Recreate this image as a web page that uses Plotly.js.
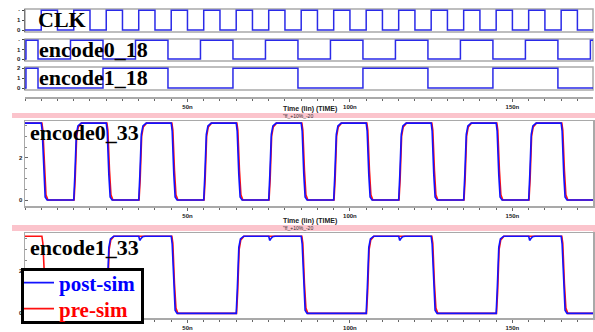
<!DOCTYPE html>
<html>
<head>
<meta charset="utf-8">
<script src="https://cdn.plot.ly/plotly-3.0.1.min.js"></script>
<style>html,body{margin:0;padding:0;background:#fff;}#chart{width:595px;height:332px;}</style>
</head>
<body>
<div id="chart"></div>
<script>
// ---- digital 1.8 V signals (step points: time ns, level V) ----
const clkT = [0,5,10,15,20,25,30,35,40,45,50,55,60,65,70,75,80,85,90,95,100,105,110,115,120,125,130,135,140,145,150,155,160,165,170,174.8];
const clkV = [0,1.98,0,1.98,0,1.98,0,1.98,0,1.98,0,1.98,0,1.98,0,1.98,0,1.98,0,1.98,0,1.98,0,1.98,0,1.98,0,1.98,0,1.98,0,1.98,0,1.98,0,0];
const enc0dT = [0,0.3,4,14,24,34,44,54,64,74,84,94,104,114,124,134,144,154,164,174,174.8];
const enc0dV = [0,1.98,0,1.98,0,1.98,0,1.98,0,1.98,0,1.98,0,1.98,0,1.98,0,1.98,0,1.98,1.98];
const enc1dT = [0,0.3,4,24,44,64,84,104,124,144,164,174.8];
const enc1dV = [0,1.98,0,1.98,0,1.98,0,1.98,0,1.98,0,0];

// ---- analog 3.3 V signals (post-sim / pre-sim) ----
const enc0PostT = [0,
 5,5.3,5.8,6.2,6.8, 15,15.35,15.8,16.3,17.3,
 25,25.3,25.8,26.2,26.8, 35,35.35,35.8,36.3,37.3,
 45,45.3,45.8,46.2,46.8, 55,55.35,55.8,56.3,57.3,
 65,65.3,65.8,66.2,66.8, 75,75.35,75.8,76.3,77.3,
 85,85.3,85.8,86.2,86.8, 95,95.35,95.8,96.3,97.3,
 105,105.3,105.8,106.2,106.8, 115,115.35,115.8,116.3,117.3,
 125,125.3,125.8,126.2,126.8, 135,135.35,135.8,136.3,137.3,
 145,145.3,145.8,146.2,146.8, 155,155.35,155.8,156.3,157.3,
 165,165.3,165.8,166.2,166.8, 174.8];
const enc0PostV = [3.63,
 3.63,3.25,1.2,0.15,0, 0,1.2,3.1,3.5,3.63,
 3.63,3.25,1.2,0.15,0, 0,1.2,3.1,3.5,3.63,
 3.63,3.25,1.2,0.15,0, 0,1.2,3.1,3.5,3.63,
 3.63,3.25,1.2,0.15,0, 0,1.2,3.1,3.5,3.63,
 3.63,3.25,1.2,0.15,0, 0,1.2,3.1,3.5,3.63,
 3.63,3.25,1.2,0.15,0, 0,1.2,3.1,3.5,3.63,
 3.63,3.25,1.2,0.15,0, 0,1.2,3.1,3.5,3.63,
 3.63,3.25,1.2,0.15,0, 0,1.2,3.1,3.5,3.63,
 3.63,3.25,1.2,0.15,0, 0];
const enc0PreT = [0,
 5.2,5.5,6.0,6.45,7.05, 15.1,15.45,15.9,16.4,17.4,
 25.2,25.5,26.0,26.45,27.05, 35.1,35.45,35.9,36.4,37.4,
 45.2,45.5,46.0,46.45,47.05, 55.1,55.45,55.9,56.4,57.4,
 65.2,65.5,66.0,66.45,67.05, 75.1,75.45,75.9,76.4,77.4,
 85.2,85.5,86.0,86.45,87.05, 95.1,95.45,95.9,96.4,97.4,
 105.2,105.5,106.0,106.45,107.05, 115.1,115.45,115.9,116.4,117.4,
 125.2,125.5,126.0,126.45,127.05, 135.1,135.45,135.9,136.4,137.4,
 145.2,145.5,146.0,146.45,147.05, 155.1,155.45,155.9,156.4,157.4,
 165.2,165.5,166.0,166.45,167.05, 174.8];
const enc0PreV = [3.63,
 3.63,3.3,1.4,0.25,0, 0,1.0,3.0,3.45,3.63,
 3.63,3.3,1.4,0.25,0, 0,1.0,3.0,3.45,3.63,
 3.63,3.3,1.4,0.25,0, 0,1.0,3.0,3.45,3.63,
 3.63,3.3,1.4,0.25,0, 0,1.0,3.0,3.45,3.63,
 3.63,3.3,1.4,0.25,0, 0,1.0,3.0,3.45,3.63,
 3.63,3.3,1.4,0.25,0, 0,1.0,3.0,3.45,3.63,
 3.63,3.3,1.4,0.25,0, 0,1.0,3.0,3.45,3.63,
 3.63,3.3,1.4,0.25,0, 0,1.0,3.0,3.45,3.63,
 3.63,3.3,1.4,0.25,0, 0];
const enc1PostT = [0,
 25,25.35,25.8,26.3,27.3, 35,35.3,35.6,36.2,36.9, 45,45.3,45.8,46.2,46.8,
 65,65.35,65.8,66.3,67.3, 75,75.3,75.6,76.2,76.9, 85,85.3,85.8,86.2,86.8,
 105,105.35,105.8,106.3,107.3, 115,115.3,115.6,116.2,116.9, 125,125.3,125.8,126.2,126.8,
 145,145.35,145.8,146.3,147.3, 155,155.3,155.6,156.2,156.9, 165,165.3,165.8,166.2,166.8,
 174.8];
const enc1PostV = [0,
 0,1.2,3.1,3.5,3.63, 3.63,3.43,3.5,3.6,3.63, 3.63,3.25,1.2,0.15,0,
 0,1.2,3.1,3.5,3.63, 3.63,3.43,3.5,3.6,3.63, 3.63,3.25,1.2,0.15,0,
 0,1.2,3.1,3.5,3.63, 3.63,3.43,3.5,3.6,3.63, 3.63,3.25,1.2,0.15,0,
 0,1.2,3.1,3.5,3.63, 3.63,3.43,3.5,3.6,3.63, 3.63,3.25,1.2,0.15,0,
 0];
const enc1PreT = [0,
 5.2,5.5,6.0,6.45,7.05, 25.1,25.45,25.9,26.4,27.4,
 45.2,45.5,46.0,46.45,47.05, 65.1,65.45,65.9,66.4,67.4,
 85.2,85.5,86.0,86.45,87.05, 105.1,105.45,105.9,106.4,107.4,
 125.2,125.5,126.0,126.45,127.05, 145.1,145.45,145.9,146.4,147.4,
 165.2,165.5,166.0,166.45,167.05, 174.8];
const enc1PreV = [3.63,
 3.63,3.3,1.4,0.25,0, 0,1.0,3.0,3.45,3.63,
 3.63,3.3,1.4,0.25,0, 0,1.0,3.0,3.45,3.63,
 3.63,3.3,1.4,0.25,0, 0,1.0,3.0,3.45,3.63,
 3.63,3.3,1.4,0.25,0, 0,1.0,3.0,3.45,3.63,
 3.63,3.3,1.4,0.25,0, 0];

// ---- tick labels ----
const timeTickVals = [50,100,150];
const timeTickText = ['50n','100n','150n'];
const digTickVals = [0,1,2];
const digTickTextA = ['0','1','·'];
const digTickTextB = ['0','1','2'];
const anaTickVals = [0,2];
const anaTickText = ['0','2'];
const seriesNames = ['post-sim','pre-sim'];

// ---- layout helpers (pixel -> paper) ----
const W = 595, H = 332;
const px = v => v / W;
const py = v => 1 - v / H;
const BLUE = '#1212ff', RED = '#ff1010', DBLUE = '#2a2ae8', GRID = '#a9a9a9';

const traces = [
  {x: clkT, y: clkV, xaxis:'x', yaxis:'y', mode:'lines', line:{shape:'hv', color:DBLUE, width:1.5}, showlegend:false},
  {x: enc0dT, y: enc0dV, xaxis:'x', yaxis:'y2', mode:'lines', line:{shape:'hv', color:DBLUE, width:1.5}, showlegend:false},
  {x: enc1dT, y: enc1dV, xaxis:'x', yaxis:'y3', mode:'lines', line:{shape:'hv', color:DBLUE, width:1.5}, showlegend:false},
  {x: enc0PreT, y: enc0PreV, xaxis:'x2', yaxis:'y4', mode:'lines', line:{color:RED, width:1.6},
   name:'<b><span style="color:#ff0000">' + seriesNames[1] + '</span></b>', legend:'legend2', showlegend:true},
  {x: enc1PreT, y: enc1PreV, xaxis:'x3', yaxis:'y5', mode:'lines', line:{color:RED, width:1.6}, showlegend:false},
  {x: enc0PostT, y: enc0PostV, xaxis:'x2', yaxis:'y4', mode:'lines', line:{color:BLUE, width:1.6},
   name:'<b><span style="color:#0000ff">' + seriesNames[0] + '</span></b>', legend:'legend', showlegend:true},
  {x: enc1PostT, y: enc1PostV, xaxis:'x3', yaxis:'y5', mode:'lines', line:{color:BLUE, width:1.6}, showlegend:false}
];

const xCommon = {
  domain:[px(25), px(593)], range:[0,174.8], showgrid:false, zeroline:false,
  tickmode:'array', tickvals:timeTickVals, ticktext:timeTickText,
  ticks:'outside', ticklen:3, tickwidth:1, tickcolor:'#666',
  tickfont:{size:6, color:'#222', family:'Liberation Sans', weight:'bold'},
  showline:true, linecolor:GRID, linewidth:1.5,
  minor:{tickmode:'linear', tick0:0, dtick:5, ticks:'outside', ticklen:2, tickcolor:'#666', showgrid:false}
};
const yDig = (d0, d1, texts) => ({
  domain:[py(d1), py(d0)], range:[-0.2,2.1], showgrid:false, zeroline:false,
  tickmode:'array', tickvals:digTickVals, ticktext:texts,
  ticks:'outside', ticklen:2, tickcolor:'#444',
  tickfont:{size:6, color:'#222', family:'Liberation Sans', weight:'bold'},
  showline:true, linecolor:'#777', linewidth:1.5, mirror:false, anchor:'x'
});
const yAna = (d0, d1, r) => ({
  domain:[py(d1), py(d0)], range:r, showgrid:false, zeroline:false,
  tickmode:'array', tickvals:anaTickVals, ticktext:anaTickText,
  ticks:'inside', ticklen:3, tickcolor:'#666',
  tickfont:{size:6, color:'#222', family:'Liberation Sans', weight:'bold'},
  showline:true, linecolor:GRID, linewidth:1.5, mirror:true,
  minor:{tickmode:'linear', tick0:0, dtick:0.5, ticks:'inside', ticklen:2, tickcolor:'#888'}
});
const legendBase = {xanchor:'left', yanchor:'middle', bgcolor:'rgba(0,0,0,0)', borderwidth:0,
  font:{family:'Liberation Serif', size:21}, itemwidth:30, tracegroupgap:0};

const boxLine = {color:GRID, width:1.5};
const bigFont = {family:'Liberation Serif', size:22, color:'#000'};
const layout = {
  width:W, height:H, margin:{l:0,r:0,t:0,b:0}, paper_bgcolor:'#fff', plot_bgcolor:'rgba(0,0,0,0)',
  font:{family:'Liberation Sans'},
  xaxis: Object.assign({}, xCommon, {anchor:'free', position:py(97), ticklen:3}),
  xaxis2: Object.assign({}, xCommon, {anchor:'y4', mirror:true}),
  xaxis3: Object.assign({}, xCommon, {anchor:'y5', mirror:true}),
  yaxis: yDig(9, 32, digTickTextA),
  yaxis2: yDig(39, 61, digTickTextA),
  yaxis3: yDig(67, 90, digTickTextB),
  yaxis4: yAna(121, 206, [-0.28, 3.73]),
  yaxis5: yAna(233, 318, [-0.22, 3.78]),
  showlegend:true,
  legend: Object.assign({}, legendBase, {x:px(19), y:py(283)}),
  legend2: Object.assign({}, legendBase, {x:px(19), y:py(309)}),
  shapes:[
    {type:'rect', xref:'paper', yref:'paper', x0:px(25), x1:px(593), y0:py(32), y1:py(9), line:boxLine, layer:'below'},
    {type:'rect', xref:'paper', yref:'paper', x0:px(25), x1:px(593), y0:py(61), y1:py(39), line:boxLine, layer:'below'},
    {type:'rect', xref:'paper', yref:'paper', x0:px(25), x1:px(593), y0:py(90), y1:py(67), line:boxLine, layer:'below'},
    {type:'rect', xref:'paper', yref:'paper', x0:px(12), x1:1, y0:py(118), y1:py(113), fillcolor:'#fbc4cc', line:{width:0}, layer:'below'},
    {type:'rect', xref:'paper', yref:'paper', x0:px(12), x1:1, y0:py(231), y1:py(225), fillcolor:'#fbc4cc', line:{width:0}, layer:'below'},
    {type:'rect', xref:'paper', yref:'paper', x0:px(593), x1:1, y0:0, y1:py(225), fillcolor:'#fbc4cc', line:{width:0}, layer:'below'},
    {type:'rect', xref:'paper', yref:'paper', x0:px(22.5), x1:px(142.5), y0:py(322.5), y1:py(269.5), fillcolor:'#fff', line:{color:'#000', width:3}, layer:'above'}
  ],
  annotations:[
    {xref:'paper', yref:'paper', x:px(36), y:py(19), xanchor:'left', yanchor:'middle', text:'<b>CLK</b>', showarrow:false, font:bigFont},
    {xref:'paper', yref:'paper', x:px(37), y:py(49.5), xanchor:'left', yanchor:'middle', text:'<b>encode0_18</b>', showarrow:false, font:bigFont},
    {xref:'paper', yref:'paper', x:px(37), y:py(77.5), xanchor:'left', yanchor:'middle', text:'<b>encode1_18</b>', showarrow:false, font:bigFont},
    {xref:'paper', yref:'paper', x:px(28), y:py(132), xanchor:'left', yanchor:'middle', text:'<b>encode0_33</b>', showarrow:false, font:bigFont},
    {xref:'paper', yref:'paper', x:px(28), y:py(247.5), xanchor:'left', yanchor:'middle', text:'<b>encode1_33</b>', showarrow:false, font:bigFont},
    {xref:'paper', yref:'paper', x:px(310), y:py(109), xanchor:'center', yanchor:'middle', text:'Time (lin) (TIME)', showarrow:false, font:{size:7, color:'#222', weight:'bold'}},
    {xref:'paper', yref:'paper', x:px(310), y:py(221), xanchor:'center', yanchor:'middle', text:'Time (lin) (TIME)', showarrow:false, font:{size:7, color:'#222', weight:'bold'}},
    {xref:'paper', yref:'paper', x:px(298), y:py(115.5), xanchor:'center', yanchor:'middle', text:'"ff_+10%_-20', showarrow:false, font:{size:5, color:'#333'}},
    {xref:'paper', yref:'paper', x:px(298), y:py(228), xanchor:'center', yanchor:'middle', text:'"ff_+10%_-20', showarrow:false, font:{size:5, color:'#333'}}
  ]
};

Plotly.newPlot('chart', traces, layout, {displayModeBar:false, staticPlot:true});
</script>
</body>
</html>
